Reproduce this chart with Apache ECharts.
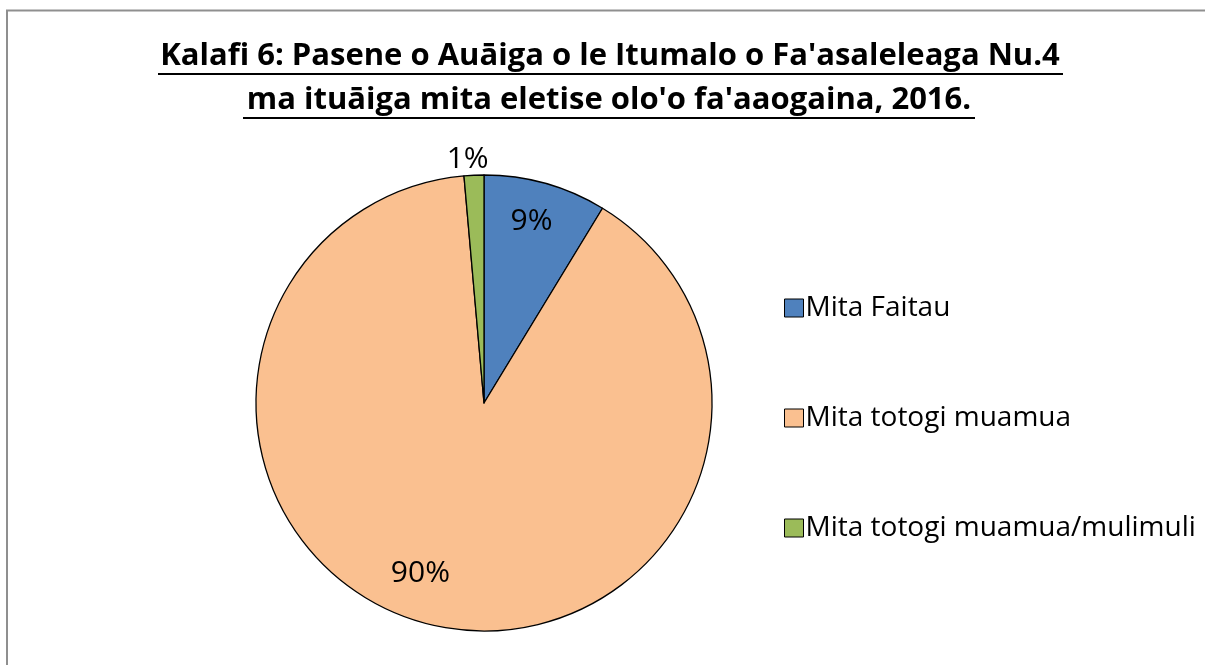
<!DOCTYPE html>
<html>
<head>
<meta charset="utf-8">
<script src="https://cdn.jsdelivr.net/npm/echarts@6/dist/echarts.min.js"></script>
<style>
    html, body { margin: 0; padding: 0; background: #fff; }
    #chart { width: 1205px; height: 665px; }
</style>
</head>
<body>
<div id="chart"></div>
<script>
const titleLines = ["Kalafi 6: Pasene o Auāiga o le Itumalo o Fa'asaleleaga Nu.4", "ma ituāiga mita eletise olo'o fa'aaogaina, 2016."]
const categories = ['Mita Faitau', 'Mita totogi muamua', 'Mita totogi muamua/mulimuli']
const shares = [8.7, 89.9, 1.4]
const colors = ['#4F81BD', '#FAC090', '#9BBB59']

const chartInstance = echarts.init(document.getElementById('chart'))

const pctLabel = (p) => Math.round(p.percent) + '%'
const labelFont = "'Open Sans', sans-serif"
const titleFont = "bold 31px 'Open Sans', sans-serif"

// nudges so the labels sit where Excel put them (inside ones are further out than r/2)
const labelOffsets = [[16, -69], [-37, 57], [20, -8]]

const pieData = categories.map((name, i) => ({
    name: name,
    value: shares[i],
    itemStyle: { color: colors[i] },
    label: {
        show: true,
        position: i === 2 ? 'outside' : 'inside',
        offset: labelOffsets[i]
    }
}))

const option = {
    animation: false,
    backgroundColor: '#fff',
    graphic: [
        // chart area border (only top and left edges are in view)
        { type: 'rect', shape: { x: 7, y: 10.5, width: 1300, height: 800 }, style: { fill: 'none', stroke: '#8f8f8f', lineWidth: 2 }, silent: true },
        { type: 'text', x: 610, y: 56, style: { text: titleLines[0], fill: '#000', font: titleFont, align: 'center', verticalAlign: 'middle' } },
        { type: 'text', x: 609, y: 100, style: { text: titleLines[1], fill: '#000', font: titleFont, align: 'center', verticalAlign: 'middle' } },
        // underline
        { type: 'line', shape: { x1: 158, y1: 74, x2: 1063, y2: 74 }, style: { stroke: '#000', lineWidth: 2 } },
        { type: 'line', shape: { x1: 243, y1: 118, x2: 975, y2: 118 }, style: { stroke: '#000', lineWidth: 2 } }
    ],
    legend: {
        orient: 'vertical',
        left: 779,
        top: 288,
        itemWidth: 19,
        itemHeight: 18,
        itemGap: 80,
        icon: 'rect',
        data: categories,
        textStyle: { fontFamily: labelFont, fontSize: 28, color: '#000', lineHeight: 30, padding: [0, 0, 0, -3] },
        itemStyle: { borderColor: '#000', borderWidth: 1 }
    },
    series: [
        {
            type: 'pie',
            center: [484, 403],
            radius: 228,
            startAngle: 90,
            clockwise: true,
            itemStyle: { borderColor: '#000', borderWidth: 1.3 },
            label: { formatter: pctLabel, fontFamily: labelFont, fontSize: 30, color: '#000' },
            labelLine: { show: false, length: 8, length2: 0 },
            emphasis: { disabled: true },
            data: pieData
        }
    ]
}

chartInstance.setOption(option)
</script>
</body>
</html>
